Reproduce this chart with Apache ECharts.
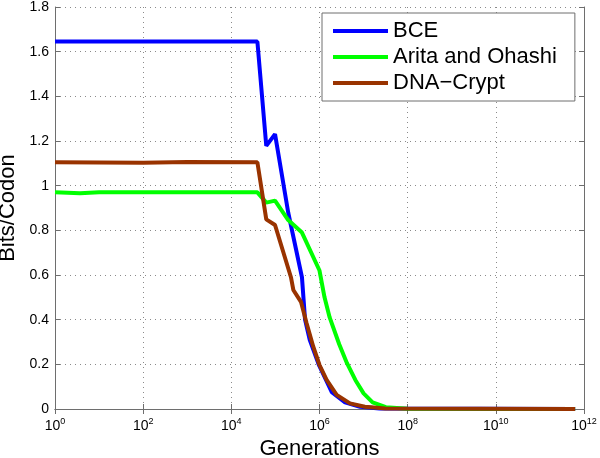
<!DOCTYPE html>
<html>
<head>
<meta charset="utf-8">
<script src="https://cdn.jsdelivr.net/npm/echarts@6/dist/echarts.min.js"></script>
<style>
html,body{margin:0;padding:0;background:#fff;}
#chart{width:600px;height:458px;}
</style>
</head>
<body>
<div id="chart"></div>
<script>
// Generations (x) and Bits/Codon (y)
const bceGen   = [1, 3.9e4, 6.2e4, 9.8e4, 1.95e5, 4.0e5, 4.7e5, 6.0e5, 9.8e5, 1.9e6, 3.8e6, 8.3e6, 2.3e7, 6.3e11];
const bceVal   = [1.645, 1.645, 1.178, 1.231, 0.88, 0.59, 0.40, 0.31, 0.195, 0.075, 0.03, 0.01, 0.002, 0];

const aritaGen = [1, 3.7, 10, 3.9e4, 6.2e4, 9.8e4, 1.95e5, 4.0e5, 1.0e6, 1.3e6, 1.7e6, 2.8e6, 4.2e6, 6.5e6, 1.0e7, 1.6e7, 3.2e7, 1.0e8, 6.3e11];
const aritaVal = [0.97, 0.966, 0.97, 0.97, 0.924, 0.933, 0.846, 0.79, 0.62, 0.50, 0.41, 0.29, 0.205, 0.13, 0.07, 0.03, 0.008, 0.001, 0];

const dnaGen   = [1, 10, 100, 1000, 3.9e4, 6.2e4, 9.8e4, 2.25e5, 2.55e5, 3.8e5, 5.1e5, 7.2e5, 1.0e6, 1.45e6, 2.45e6, 4.9e6, 1.07e7, 3.1e7, 6.3e11];
const dnaVal   = [1.105, 1.104, 1.103, 1.106, 1.105, 0.849, 0.824, 0.59, 0.533, 0.48, 0.384, 0.28, 0.197, 0.13, 0.063, 0.025, 0.01, 0.002, 0];

const seriesNames = ['BCE', 'Arita and Ohashi', 'DNA\u2212Crypt'];
const seriesColors = ['#0000ff', '#00ff00', '#993300'];
const yTicks = [0, 0.2, 0.4, 0.6, 0.8, 1, 1.2, 1.4, 1.6, 1.8];

function zip(xs, ys) { return xs.map((x, i) => [x, ys[i]]); }

const FONT = 'Liberation Sans, Arial, sans-serif';
const axisColor = '#6e6e6e';
const gridLine = { show: true, lineStyle: { color: '#8a8a8a', type: [1, 4], width: 1 } };

const chart = echarts.init(document.getElementById('chart'), null, { renderer: 'canvas' });
chart.setOption({
  animation: false,
  backgroundColor: '#fff',
  textStyle: { fontFamily: FONT },
  grid: { left: 55, right: 16, top: 7, bottom: 49, containLabel: false, outerBoundsMode: 'none' },
  legend: {
    orient: 'vertical',
    left: 322, top: 13,
    padding: [7, 18, 7, 11],
    itemGap: 4,
    itemWidth: 55, itemHeight: 4,
    icon: 'rect',
    borderColor: '#6e6e6e', borderWidth: 1,
    backgroundColor: '#fff',
    textStyle: { fontSize: 22, lineHeight: 22, color: '#000', fontFamily: FONT },
    data: seriesNames
  },
  xAxis: [{
    type: 'log', logBase: 10, min: 1, max: 1e12, interval: 2,
    position: 'bottom',
    name: 'Generations', nameLocation: 'middle', nameGap: 28,
    nameTextStyle: { fontSize: 22, color: '#000', fontFamily: FONT },
    axisLine: { show: true, lineStyle: { color: axisColor } },
    axisTick: { show: true, inside: true, length: 5, lineStyle: { color: axisColor } },
    minorTick: { show: false },
    splitLine: gridLine,
    axisLabel: {
      margin: 8,
      color: '#000',
      formatter: function (v) { return '{b|10}{e|' + Math.round(Math.log10(v)) + '}'; },
      rich: {
        b: { fontSize: 14, fontFamily: FONT, color: '#000' },
        e: { fontSize: 9, fontFamily: FONT, color: '#000', padding: [0, 0, 10, 0] }
      }
    }
  }, {
    type: 'log', logBase: 10, min: 1, max: 1e12, interval: 2,
    position: 'top',
    axisLine: { show: true, lineStyle: { color: axisColor } },
    axisTick: { show: true, inside: true, length: 5, lineStyle: { color: axisColor } },
    splitLine: { show: false },
    axisLabel: { show: false }
  }],
  yAxis: [{
    type: 'value', min: 0, max: 1.8, interval: 0.2,
    position: 'left',
    name: 'Bits/Codon', nameLocation: 'middle', nameGap: 26,
    nameTextStyle: { fontSize: 22, color: '#000', fontFamily: FONT },
    axisLine: { show: true, lineStyle: { color: axisColor } },
    axisTick: { show: true, inside: true, length: 5, lineStyle: { color: axisColor } },
    splitLine: gridLine,
    axisLabel: {
      margin: 6, fontSize: 14, color: '#000', fontFamily: FONT,
      formatter: function (v) { const t = yTicks.find(k => Math.abs(k - v) < 1e-9); return String(t !== undefined ? t : v); }
    }
  }, {
    type: 'value', min: 0, max: 1.8, interval: 0.2,
    position: 'right',
    axisLine: { show: true, lineStyle: { color: axisColor } },
    axisTick: { show: true, inside: true, length: 5, lineStyle: { color: axisColor } },
    splitLine: { show: false },
    axisLabel: { show: false }
  }],
  series: [
    { name: seriesNames[0], type: 'line', xAxisIndex: 0, yAxisIndex: 0, data: zip(bceGen, bceVal),
      symbol: 'none', color: seriesColors[0], lineStyle: { width: 4, color: seriesColors[0] } },
    { name: seriesNames[1], type: 'line', xAxisIndex: 0, yAxisIndex: 0, data: zip(aritaGen, aritaVal),
      symbol: 'none', color: seriesColors[1], lineStyle: { width: 4, color: seriesColors[1] } },
    { name: seriesNames[2], type: 'line', xAxisIndex: 0, yAxisIndex: 0, data: zip(dnaGen, dnaVal),
      symbol: 'none', color: seriesColors[2], lineStyle: { width: 4, color: seriesColors[2] } }
  ]
});
</script>
</body>
</html>
